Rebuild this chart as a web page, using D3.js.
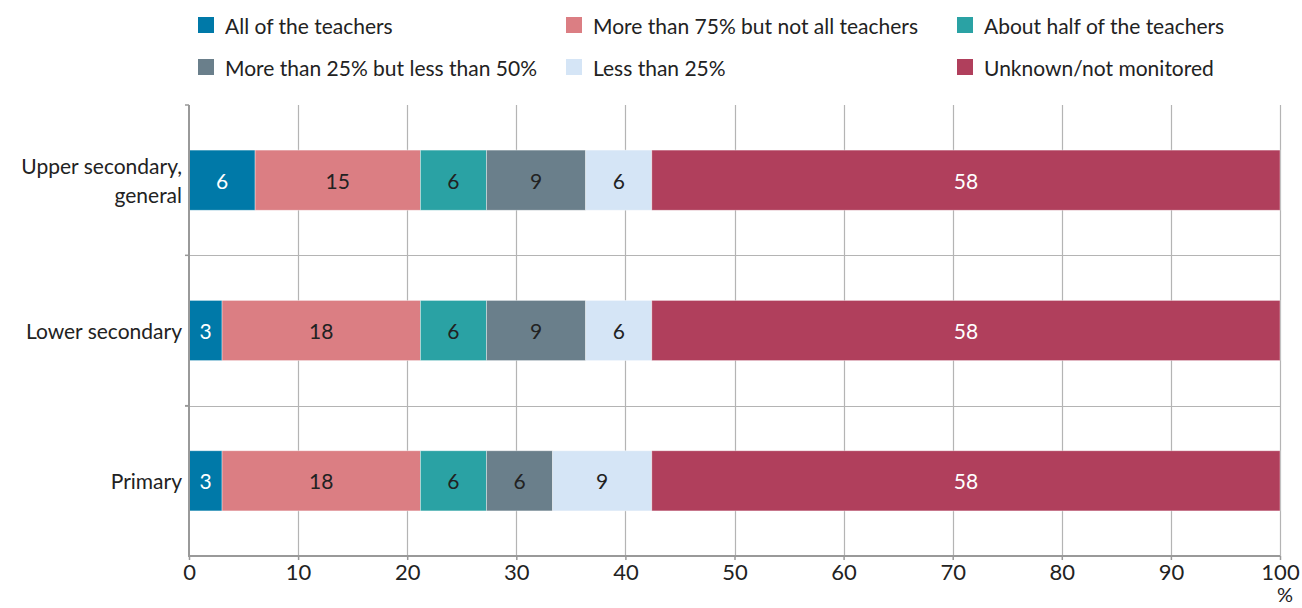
<!DOCTYPE html>
<html><head><meta charset="utf-8">
<script src="https://cdn.jsdelivr.net/npm/d3@7"></script>
<style>
html,body{margin:0;padding:0;background:#fff;}
text{font-family:Lato, "Open Sans", sans-serif;}
</style></head>
<body><svg id="chart" width="1302" height="608"></svg>
<script>
const categories = ["Upper secondary, general", "Lower secondary", "Primary"];
const seriesNames = ["All of the teachers", "More than 75% but not all teachers", "About half of the teachers",
  "More than 25% but less than 50%", "Less than 25%", "Unknown/not monitored"];
const allTeachers   = [6.06, 3.03, 3.03];
const over75        = [15.15, 18.18, 18.18];
const aboutHalf     = [6.06, 6.06, 6.06];
const over25        = [9.09, 9.09, 6.06];
const under25       = [6.06, 6.06, 9.09];
const unknown       = [57.58, 57.58, 57.58];
const xTicks = [0,10,20,30,40,50,60,70,80,90,100];

const colors = ["#0079a8","#db7e83","#2aa2a4","#6a7f8b","#d5e5f6","#b03f5c"];
const labelColors = ["#fff","#222","#222","#222","#222","#fff"];
const FS = 21;

const svg = d3.select("#chart");
const m = {left:189, right:1280, top:105, bottom:556};
const x = d3.scaleLinear().domain([0,100]).range([m.left, m.right]);
const y = d3.scaleBand().domain(categories).range([m.top, m.bottom]).paddingInner(0.6).paddingOuter(0.3);
const yb = d3.scaleBand().domain(categories).range([m.top, m.bottom]);

const rows = categories.map((c,i)=>{
  const o = {cat:c};
  [allTeachers,over75,aboutHalf,over25,under25,unknown].forEach((arr,k)=>o[seriesNames[k]]=arr[i]);
  return o;
});
const stacked = d3.stack().keys(seriesNames)(rows);

const gridColor = "#b4b4b4";
svg.append("g").selectAll("line").data(xTicks.slice(1)).join("line")
  .attr("x1",d=>Math.round(x(d))+0.5).attr("x2",d=>Math.round(x(d))+0.5)
  .attr("y1",m.top).attr("y2",m.bottom)
  .attr("stroke",gridColor).attr("stroke-width",1.2);
svg.append("g").selectAll("line").data(categories.slice(1)).join("line")
  .attr("x1",m.left-4).attr("x2",m.right)
  .attr("y1",d=>Math.round(yb(d))+0.5).attr("y2",d=>Math.round(yb(d))+0.5)
  .attr("stroke",gridColor).attr("stroke-width",1.2);

const g = svg.append("g");
stacked.forEach((s,k)=>{
  g.append("g").selectAll("rect").data(s).join("rect")
    .attr("x",d=>x(d[0])).attr("width",d=>x(d[1])-x(d[0]))
    .attr("y",d=>y(d.data.cat)).attr("height",y.bandwidth())
    .attr("fill",colors[k]).attr("stroke","#ffffff").attr("stroke-opacity",0.45).attr("stroke-width",0.8);
  g.append("g").selectAll("text").data(s).join("text")
    .attr("x",d=>(x(d[0])+x(d[1]))/2).attr("y",d=>y(d.data.cat)+y.bandwidth()/2)
    .attr("text-anchor","middle").attr("dominant-baseline","central")
    .attr("font-size",FS).attr("fill",labelColors[k])
    .text(d=>Math.round(d[1]-d[0]));
});

const axisColor = "#999";
const xAxis = svg.append("g").attr("transform",`translate(0,${m.bottom})`)
  .call(d3.axisBottom(x).tickValues(xTicks).tickSize(4).tickPadding(4));
xAxis.select(".domain").attr("stroke",axisColor).attr("stroke-width",2).attr("d",`M${m.left},0H${m.right}`);
xAxis.selectAll(".tick line").attr("stroke",axisColor).attr("stroke-width",1.5);
xAxis.selectAll(".tick text").attr("font-size",22).attr("fill","#222").attr("font-family","Lato");

const yAxisG = svg.append("g");
yAxisG.append("line").attr("x1",m.left).attr("x2",m.left).attr("y1",m.top).attr("y2",m.bottom+1)
  .attr("stroke",axisColor).attr("stroke-width",2);
yAxisG.selectAll("line.t").data(categories).join("line").attr("class","t")
  .attr("x1",m.left-4).attr("x2",m.left).attr("y1",d=>yb(d)).attr("y2",d=>yb(d))
  .attr("stroke",axisColor).attr("stroke-width",1.5);

const catLines = {"Upper secondary, general":["Upper secondary,","general"],"Lower secondary":["Lower secondary"],"Primary":["Primary"]};
categories.forEach(c=>{
  const lines = catLines[c];
  const cy = y(c)+y.bandwidth()/2;
  const t = svg.append("text").attr("x",182).attr("text-anchor","end").attr("font-size",FS).attr("fill","#222");
  lines.forEach((l,i)=>{
    t.append("tspan").attr("x",182).attr("y",cy + (i-(lines.length-1)/2)*29).attr("dominant-baseline","central").text(l);
  });
});

svg.append("text").attr("x",1285).attr("y",602).attr("text-anchor","middle").attr("font-size",20).attr("fill","#222").text("%");

const legX = [198, 566, 957];
const legY = [25, 67];
seriesNames.forEach((n,k)=>{
  const col = k%3, row = Math.floor(k/3);
  svg.append("rect").attr("x",legX[col]).attr("y",legY[row]-8).attr("width",16).attr("height",16).attr("fill",colors[k]);
  svg.append("text").attr("x",legX[col]+27).attr("y",legY[row]).attr("dominant-baseline","central")
    .attr("font-size",FS).attr("fill","#222").text(n);
});
</script>
</body></html>
